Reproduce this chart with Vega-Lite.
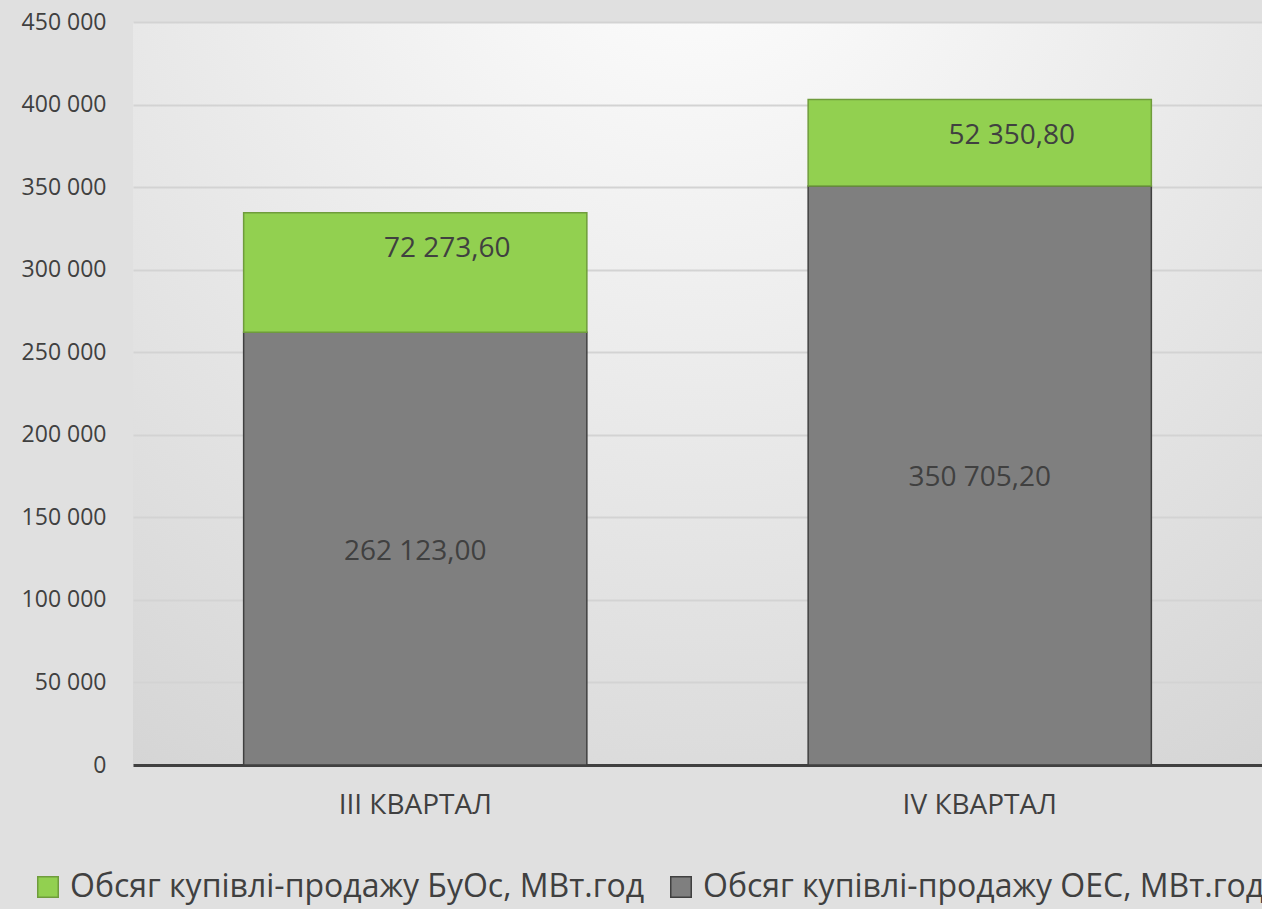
{
  "$schema": "https://vega.github.io/schema/vega-lite/v6.json",
  "width": 1129,
  "height": 743,
  "autosize": "none",
  "padding": {"left": 133, "top": 22, "right": 0, "bottom": 144},
  "background": "#e0e0e0",
  "config": {
    "locale": {"number": {"decimal": ",", "thousands": " ", "grouping": [3], "currency": ["", ""]}},
    "font": "Open Sans",
    "view": {
      "stroke": null,
      "fill": {
        "gradient": "radial",
        "x1": 0.5, "y1": 0.05, "r1": 0,
        "x2": 0.5, "y2": 0.05, "r2": 0.95,
        "stops": [
          {"offset": 0, "color": "#ffffff"},
          {"offset": 1, "color": "#d4d4d4"}
        ]
      }
    }
  },
  "data": {
    "values": [
      {"quarter": "III КВАРТАЛ", "series": "Обсяг купівлі-продажу ОЕС, МВт.год", "value": 262123.00},
      {"quarter": "III КВАРТАЛ", "series": "Обсяг купівлі-продажу БуОс, МВт.год", "value": 72273.60},
      {"quarter": "IV КВАРТАЛ", "series": "Обсяг купівлі-продажу ОЕС, МВт.год", "value": 350705.20},
      {"quarter": "IV КВАРТАЛ", "series": "Обсяг купівлі-продажу БуОс, МВт.год", "value": 52350.80}
    ]
  },
  "transform": [
    {"stack": "value", "groupby": ["quarter"], "sort": [{"field": "series", "order": "descending"}], "as": ["v0", "v1"]}
  ],
  "encoding": {
    "x": {
      "field": "quarter",
      "type": "nominal",
      "scale": {"paddingInner": 0.392, "paddingOuter": 0.196},
      "axis": {
        "title": null,
        "labelAngle": 0,
        "ticks": false,
        "domainColor": "#404040",
        "domainWidth": 3,
        "labelPadding": 26,
        "labelFontSize": 28,
        "labelColor": "#404040",
        "grid": false
      }
    }
  },
  "resolve": {"scale": {"y": "independent"}},
  "layer": [
    {
      "mark": {"type": "bar", "strokeWidth": 1.5},
      "encoding": {
        "y": {
          "field": "v0",
          "type": "quantitative",
          "scale": {"domain": [0, 450000], "nice": false},
          "axis": {
            "title": null,
            "values": [0, 50000, 100000, 150000, 200000, 250000, 300000, 350000, 400000, 450000],
            "format": ",d",
            "ticks": false,
            "domain": false,
            "labelPadding": 27,
            "labelFontSize": 23,
            "labelColor": "#404040",
            "gridColor": "#d3d3d3",
            "gridWidth": 2
          }
        },
        "y2": {"field": "v1"},
        "color": {
          "field": "series",
          "type": "nominal",
          "scale": {
            "domain": ["Обсяг купівлі-продажу БуОс, МВт.год", "Обсяг купівлі-продажу ОЕС, МВт.год"],
            "range": ["#92d050", "#7f7f7f"]
          },
          "legend": {
            "orient": "none", "legendX": -101, "legendY": 849, "direction": "horizontal",
            "title": null, "symbolType": "square", "symbolSize": 420, "symbolStrokeWidth": 1.5,
            "labelFontSize": 32, "labelColor": "#404040", "labelLimit": 900,
            "columnPadding": 20, "labelOffset": 6
          }
        },
        "stroke": {
          "field": "series",
          "type": "nominal",
          "scale": {
            "domain": ["Обсяг купівлі-продажу БуОс, МВт.год", "Обсяг купівлі-продажу ОЕС, МВт.год"],
            "range": ["#6f9c3c", "#404040"]
          },
          "legend": {
            "orient": "none", "legendX": -101, "legendY": 849, "direction": "horizontal",
            "title": null, "symbolType": "square", "symbolSize": 420, "symbolStrokeWidth": 1.5,
            "labelFontSize": 32, "labelColor": "#404040", "labelLimit": 900,
            "columnPadding": 20, "labelOffset": 6
          }
        }
      }
    },
    {
      "transform": [{"filter": "datum.series == 'Обсяг купівлі-продажу ОЕС, МВт.год'"}],
      "mark": {"type": "text", "fontSize": 28, "color": "#404040", "baseline": "middle", "dy": 3},
      "encoding": {
        "y": {"field": "value", "type": "quantitative", "scale": {"domain": [0, 900000], "nice": false}, "axis": null},
        "text": {"field": "value", "type": "quantitative", "format": ",.2f"}
      }
    },
    {
      "transform": [{"filter": "datum.series == 'Обсяг купівлі-продажу БуОс, МВт.год'"}],
      "mark": {"type": "text", "fontSize": 28, "color": "#404040", "baseline": "middle", "dx": 32, "dy": 36},
      "encoding": {
        "y": {"field": "v1", "type": "quantitative", "scale": {"domain": [0, 450000], "nice": false}, "axis": null},
        "text": {"field": "value", "type": "quantitative", "format": ",.2f"}
      }
    }
  ]
}
